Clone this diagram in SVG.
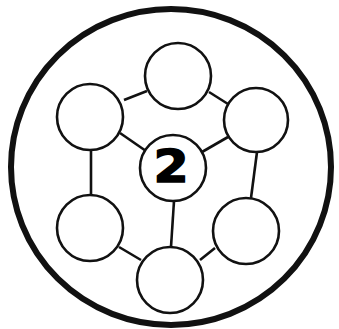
<svg xmlns="http://www.w3.org/2000/svg" width="339" height="329" viewBox="0 0 339 329">
<style>
.n{fill:#fff;stroke:#111;stroke-width:2.6}
.e{stroke:#111;stroke-width:2.6;fill:none}
.t{font-family:"DejaVu Sans",sans-serif;font-weight:bold;font-size:44px;fill:#000;stroke:#000;stroke-width:1.4;text-anchor:middle}
</style>
<rect width="339" height="329" fill="#fff"/>
<ellipse id="outer" cx="171" cy="167" rx="160" ry="158" fill="none" stroke="#111" stroke-width="6"/>
<g id="connectors">
<line class="e" x1="124" y1="100" x2="147" y2="91"/>
<line class="e" x1="209" y1="92" x2="228" y2="104"/>
<line class="e" x1="120" y1="133" x2="146" y2="151"/>
<line class="e" x1="228" y1="137" x2="202" y2="152"/>
<line class="e" x1="91" y1="149" x2="91" y2="195"/>
<line class="e" x1="257" y1="152" x2="251" y2="198"/>
<line class="e" x1="174" y1="201" x2="171" y2="247"/>
<line class="e" x1="119" y1="247" x2="141" y2="260"/>
<line class="e" x1="215" y1="248" x2="200" y2="260"/>
</g>
<g id="n-top"><circle class="n" cx="178" cy="76" r="33"/></g>
<g id="n-ul"><circle class="n" cx="90" cy="117" r="33"/></g>
<g id="n-ur"><circle class="n" cx="256" cy="120" r="32"/></g>
<g id="n-center"><circle class="n" cx="173" cy="168" r="33"/><text class="t" transform="translate(171 182) scale(1.15 1)" x="0" y="0">2</text></g>
<g id="n-ll"><circle class="n" cx="90" cy="228" r="33"/></g>
<g id="n-lr"><circle class="n" cx="246" cy="231" r="33"/></g>
<g id="n-bottom"><circle class="n" cx="170" cy="280" r="33"/></g>
</svg>
